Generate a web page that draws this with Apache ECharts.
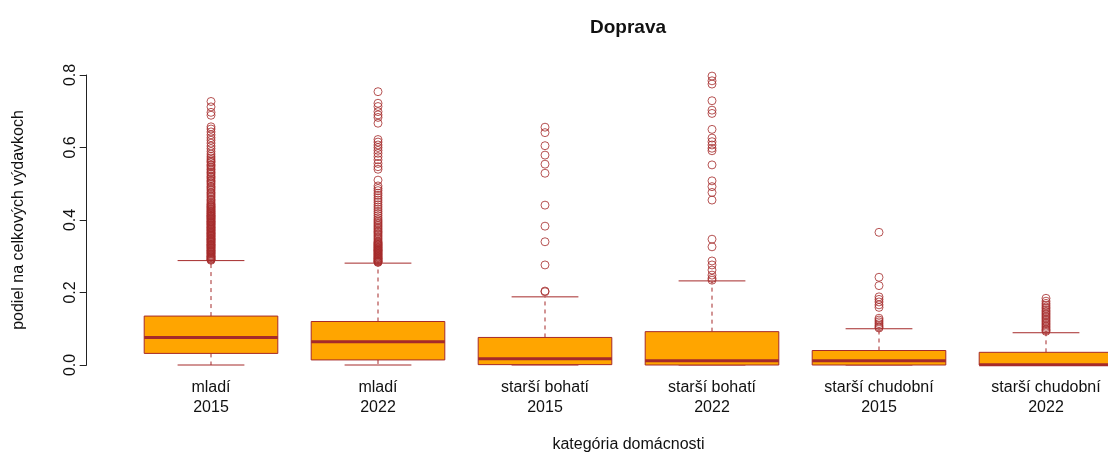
<!DOCTYPE html>
<html>
<head>
<meta charset="utf-8">
<script src="https://cdn.jsdelivr.net/npm/echarts@6/dist/echarts.min.js"></script>
<style>
html,body{margin:0;padding:0;background:#ffffff;}
#chart{width:1108px;height:453px;}
</style>
</head>
<body>
<div id="chart"></div>
<script>
// ---- data ----
const categories = ['mladí\n2015', 'mladí\n2022', 'starší bohatí\n2015', 'starší bohatí\n2022', 'starší chudobní\n2015', 'starší chudobní\n2022'];
const lowerWhisker = [0.000, 0.000, 0.000, 0.000, 0.000, 0.000];
const q1 = [0.032, 0.014, 0.001, 0.000, 0.000, 0.000];
const median = [0.076, 0.064, 0.017, 0.012, 0.012, 0.001];
const q3 = [0.135, 0.120, 0.076, 0.092, 0.040, 0.035];
const upperWhisker = [0.288, 0.281, 0.188, 0.232, 0.100, 0.089];

const outMlady2015 = [0.727, 0.712, 0.697, 0.689, 0.657, 0.651, 0.643, 0.635, 0.627, 0.620, 0.612, 0.604, 0.597, 0.589, 0.582, 0.576,
  0.571, 0.566, 0.562, 0.559, 0.553, 0.550, 0.546, 0.541, 0.538, 0.533, 0.530, 0.526, 0.521, 0.518, 0.514, 0.509, 0.506, 0.502,
  0.498, 0.493, 0.490, 0.486, 0.482, 0.477, 0.474, 0.470, 0.466, 0.462, 0.457, 0.454, 0.450, 0.446, 0.443, 0.441, 0.438, 0.436, 0.434,
  0.431, 0.429, 0.426, 0.424, 0.422, 0.419, 0.418, 0.415, 0.413, 0.411, 0.410, 0.407, 0.406, 0.403, 0.402, 0.399, 0.397, 0.395, 0.394,
  0.391, 0.390, 0.387, 0.386, 0.383, 0.381, 0.379, 0.378, 0.375, 0.374, 0.371, 0.370, 0.367, 0.365, 0.363, 0.362, 0.359, 0.358,
  0.355, 0.354, 0.351, 0.349, 0.347, 0.346, 0.343, 0.342, 0.339, 0.338, 0.335, 0.333, 0.331, 0.330, 0.327, 0.326, 0.323, 0.322,
  0.319, 0.317, 0.315, 0.314, 0.311, 0.310, 0.307, 0.306, 0.303, 0.301, 0.299, 0.298, 0.296, 0.294, 0.292, 0.291, 0.289];
const outMlady2022 = [0.754, 0.722, 0.713, 0.699, 0.690, 0.683, 0.667,
  0.622, 0.615, 0.607, 0.600, 0.592, 0.584, 0.575, 0.566, 0.556, 0.547, 0.540, 0.510,
  0.494, 0.487, 0.481, 0.474, 0.468, 0.461, 0.455, 0.449, 0.442, 0.436, 0.430, 0.424, 0.418, 0.412, 0.406, 0.401,
  0.397, 0.393, 0.389, 0.385, 0.381, 0.377, 0.373, 0.369, 0.366, 0.362, 0.358, 0.354, 0.350, 0.346, 0.342, 0.339,
  0.337, 0.335, 0.333, 0.331, 0.329, 0.327, 0.325, 0.323, 0.321, 0.319, 0.317, 0.316, 0.314, 0.312, 0.310, 0.308, 0.306,
  0.304, 0.302, 0.300, 0.298, 0.296, 0.294, 0.293, 0.291, 0.289, 0.287, 0.286, 0.284, 0.283];
const outBohati2015 = [0.656, 0.641, 0.605, 0.579, 0.554, 0.529, 0.441, 0.383, 0.340, 0.276, 0.204, 0.202];
const outBohati2022 = [0.797, 0.784, 0.775, 0.729, 0.703, 0.694, 0.650, 0.626, 0.616, 0.607, 0.598, 0.591, 0.552, 0.508,
  0.492, 0.476, 0.455, 0.347, 0.326, 0.287, 0.276, 0.262, 0.248, 0.239, 0.234];
const outChudobni2015 = [0.366, 0.242, 0.219, 0.188, 0.181, 0.174, 0.166, 0.159, 0.129, 0.124, 0.119, 0.114, 0.109, 0.105, 0.102];
const outChudobni2022 = [0.184, 0.176, 0.170, 0.165, 0.160, 0.156, 0.151, 0.147, 0.143, 0.139, 0.135, 0.131, 0.127, 0.123,
  0.119, 0.115, 0.111, 0.107, 0.103, 0.099, 0.096, 0.093];

const outlierGroups = [outMlady2015, outMlady2022, outBohati2015, outBohati2022, outChudobni2015, outChudobni2022];

// ---- build ----
const boxData = categories.map((c, i) => [i, lowerWhisker[i], q1[i], median[i], q3[i], upperWhisker[i]]);
const outlierData = [];
outlierGroups.forEach((arr, i) => arr.forEach(v => outlierData.push([i, v])));

const BROWN = '#A52A2A';
const FONT = "'Liberation Sans', Arial, Helvetica, sans-serif";

function renderBox(params, api) {
  const idx = api.value(0);
  const cx = api.coord([idx, 0])[0];
  const bw = api.size([1, 0])[0] * 0.8;
  const yLw = api.coord([idx, api.value(1)])[1];
  const yQ1 = api.coord([idx, api.value(2)])[1];
  const yMed = api.coord([idx, api.value(3)])[1];
  const yQ3 = api.coord([idx, api.value(4)])[1];
  const yUw = api.coord([idx, api.value(5)])[1];
  const cap = bw / 4;
  const dashStyle = {stroke: BROWN, lineWidth: 1, lineDash: [4, 4]};
  const solid = {stroke: BROWN, lineWidth: 1};
  return {
    type: 'group',
    children: [
      {type: 'line', shape: {x1: cx, y1: yQ3, x2: cx, y2: yUw}, style: dashStyle},
      {type: 'line', shape: {x1: cx, y1: yQ1, x2: cx, y2: yLw}, style: dashStyle},
      {type: 'line', shape: {x1: cx - cap, y1: yUw, x2: cx + cap, y2: yUw}, style: solid},
      {type: 'line', shape: {x1: cx - cap, y1: yLw, x2: cx + cap, y2: yLw}, style: solid},
      {type: 'rect', shape: {x: cx - bw / 2, y: yQ3, width: bw, height: yQ1 - yQ3}, style: {fill: '#FFA500', stroke: BROWN, lineWidth: 1}},
      {type: 'line', shape: {x1: cx - bw / 2, y1: yMed, x2: cx + bw / 2, y2: yMed}, style: {stroke: BROWN, lineWidth: 3}}
    ]
  };
}

const chart = echarts.init(document.getElementById('chart'), null, {renderer: 'canvas'});
chart.setOption({
  backgroundColor: '#ffffff',
  animation: false,
  title: {
    text: 'Doprava',
    left: 623,
    top: 13,
    textAlign: 'center',
    textStyle: {fontFamily: FONT, fontSize: 19, fontWeight: 'bold', color: '#111'}
  },
  grid: {left: 211, top: 75, width: 835, height: 290, containLabel: false, outerBoundsMode: 'none'},
  xAxis: {
    type: 'category',
    data: categories,
    boundaryGap: false,
    axisLine: {show: false},
    axisTick: {show: false},
    splitLine: {show: false},
    axisLabel: {fontFamily: FONT, fontSize: 16, lineHeight: 20, color: '#111', margin: 13, interval: 0},
    name: 'kategória domácnosti',
    nameLocation: 'middle',
    nameGap: 72,
    nameTextStyle: {fontFamily: FONT, fontSize: 16, color: '#111'}
  },
  yAxis: {
    type: 'value',
    min: 0,
    max: 0.8,
    interval: 0.2,
    offset: 124.3,
    axisLine: {show: true, lineStyle: {color: '#222', width: 1}},
    axisTick: {show: true, length: 7, lineStyle: {color: '#222'}},
    splitLine: {show: false},
    axisLabel: {
      fontFamily: FONT, fontSize: 16, color: '#111', rotate: 90, margin: 8,
      formatter: v => v.toFixed(1)
    },
    name: 'podiel na celkových výdavkoch',
    nameLocation: 'middle',
    nameRotate: 90,
    nameGap: 60,
    nameTextStyle: {fontFamily: FONT, fontSize: 16, color: '#111'}
  },
  series: [
    {
      type: 'custom',
      renderItem: renderBox,
      data: boxData,
      encode: {x: 0, y: [1, 2, 3, 4, 5]},
      clip: false,
      z: 2
    },
    {
      type: 'scatter',
      data: outlierData,
      symbol: 'circle',
      symbolSize: 8,
      itemStyle: {color: 'rgba(0,0,0,0)', borderColor: BROWN, borderWidth: 1},
      clip: false,
      z: 3
    }
  ]
});
</script>
</body>
</html>
